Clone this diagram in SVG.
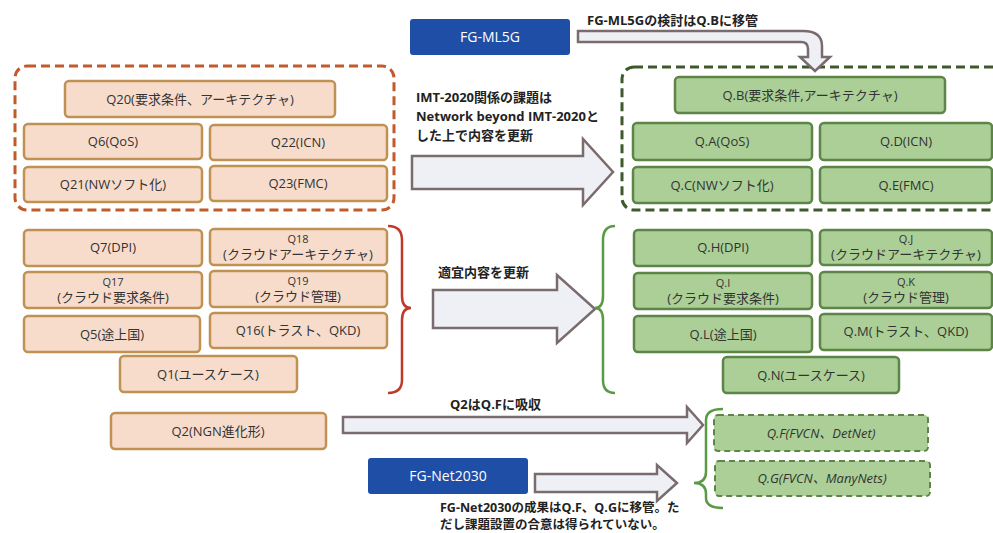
<svg xmlns="http://www.w3.org/2000/svg" width="993" height="533" viewBox="0 0 993 533">
<defs>
<style>
text{font-family:"Open Sans","Noto Sans CJK JP",sans-serif;fill:#333;text-anchor:middle}
.o{fill:#f7dccc;stroke:#bf9254;stroke-width:2.5}
.g{fill:#abcf96;stroke:#5e8548;stroke-width:2.5}
.gd{fill:#abcf96;stroke:#5e8548;stroke-width:2;stroke-dasharray:6,4}
.bl{fill:#1f4ea6}
.t{font-size:13px}
.s{font-size:11px}
.lb{font-size:13px;font-weight:bold;fill:#222;text-anchor:start}
.w{fill:#fff;font-size:14px}
.it{font-style:italic;font-size:13px}
.ar{fill:#eef0f5;stroke:#7a6b6e;stroke-width:2.5;stroke-linejoin:miter}
</style>
</defs>
<rect width="993" height="533" fill="#fff"/>

<g id="containers">
<rect x="15" y="66" width="379" height="144" rx="12" fill="none" stroke="#c35a2b" stroke-width="3" stroke-dasharray="9,5"/>
<rect x="622" y="67" width="390" height="143" rx="12" fill="none" stroke="#3e5a2c" stroke-width="3" stroke-dasharray="9,5"/>
</g>

<g id="connectors">
<path class="ar" d="M578,31 L803,31 Q822,31 822,46 L822,57 L830,57 L815,71 L800,57 L808,57 L808,49 Q808,42 801,42 L578,42 Z"/>
<polygon class="ar" points="412,156 583,156 583,139 613,172 583,205 583,189 412,189"/>
<polygon class="ar" points="433,290 557,290 557,275 595,309 557,343 557,328 433,328"/>
<polygon class="ar" points="343,417 687,417 687,407 703,425 687,443 687,433 343,433"/>
<polygon class="ar" points="535,474 657,474 657,465 677,483 657,501 657,492 535,492"/>
<path d="M388,226 Q402,226 402,240 L402,296 Q402,308 411,308 Q402,308 402,320 L402,380 Q402,393 388,393" fill="none" stroke="#c0392b" stroke-width="2.5"/>
<path d="M615,226 Q603,226 603,240 L603,296 Q603,308 595,308 Q603,308 603,320 L603,380 Q603,393 615,393" fill="none" stroke="#5a9a45" stroke-width="2.5"/>
<path d="M723,409 Q706,409 706,420 L706,472 Q706,483 694,483 Q706,483 706,494 L706,498 Q706,508 723,508" fill="none" stroke="#5a9a45" stroke-width="2.5"/>
</g>

<g id="labels">
<text class="lb" x="587" y="25">FG-ML5Gの検討はQ.Bに移管</text>
<text class="lb" x="416" y="102">IMT-2020関係の課題は</text>
<text class="lb" x="416" y="121">Network beyond IMT-2020と</text>
<text class="lb" x="416" y="140">した上で内容を更新</text>
<text class="lb" x="438" y="277">適宜内容を更新</text>
<text class="lb" x="450" y="409">Q2はQ.Fに吸収</text>
<text class="lb" x="440" y="512" style="font-size:12.5px">FG-Net2030の成果はQ.F、Q.Gに移管。た</text>
<text class="lb" x="440" y="529" style="font-size:12.5px">だし課題設置の合意は得られていない。</text>
</g>

<g id="fg-ml5g"><rect class="bl" x="410" y="19" width="160" height="36" rx="3"/><text class="w" x="490" y="42">FG-ML5G</text></g>
<g id="fg-net2030"><rect class="bl" x="368" y="458" width="160" height="36" rx="3"/><text class="w" x="448" y="481">FG-Net2030</text></g>

<g id="q20"><rect class="o" x="65" y="81" width="270" height="36" rx="4"/><text class="t" x="200" y="104">Q20(要求条件、アーキテクチャ)</text></g>
<g id="q6"><rect class="o" x="24" y="124" width="178" height="35" rx="4"/><text class="t" x="113" y="146">Q6(QoS)</text></g>
<g id="q22"><rect class="o" x="210" y="125" width="177" height="35" rx="4"/><text class="t" x="298" y="147">Q22(ICN)</text></g>
<g id="q21"><rect class="o" x="24" y="167" width="178" height="35" rx="4"/><text class="t" x="113" y="189">Q21(NWソフト化)</text></g>
<g id="q23"><rect class="o" x="210" y="166" width="177" height="35" rx="4"/><text class="t" x="298" y="188">Q23(FMC)</text></g>

<g id="q7"><rect class="o" x="24" y="230" width="178" height="36" rx="4"/><text class="t" x="113" y="252">Q7(DPI)</text></g>
<g id="q18"><rect class="o" x="210" y="229" width="177" height="36" rx="4"/><text class="s" x="298" y="243">Q18</text><text class="t" x="298" y="259">(クラウドアーキテクチャ)</text></g>
<g id="q17"><rect class="o" x="24" y="272" width="178" height="36" rx="4"/><text class="s" x="113" y="286">Q17</text><text class="t" x="113" y="302">(クラウド要求条件)</text></g>
<g id="q19"><rect class="o" x="210" y="271" width="177" height="36" rx="4"/><text class="s" x="298" y="285">Q19</text><text class="t" x="298" y="301">(クラウド管理)</text></g>
<g id="q5"><rect class="o" x="24" y="316" width="176" height="36" rx="4"/><text class="t" x="112" y="339">Q5(途上国)</text></g>
<g id="q16"><rect class="o" x="210" y="313" width="177" height="35" rx="4"/><text class="t" x="298" y="335">Q16(トラスト、QKD)</text></g>
<g id="q1"><rect class="o" x="120" y="356" width="177" height="36" rx="4"/><text class="t" x="208" y="379">Q1(ユースケース)</text></g>
<g id="q2"><rect class="o" x="111" y="413" width="215" height="36" rx="4"/><text class="t" x="218" y="436">Q2(NGN進化形)</text></g>

<g id="qb"><rect class="g" x="675" y="77" width="270" height="36" rx="4"/><text class="t" x="810" y="100">Q.B(要求条件,アーキテクチャ)</text></g>
<g id="qa"><rect class="g" x="633" y="123" width="179" height="37" rx="4"/><text class="t" x="722" y="146">Q.A(QoS)</text></g>
<g id="qd"><rect class="g" x="820" y="123" width="172" height="37" rx="4"/><text class="t" x="906" y="146">Q.D(ICN)</text></g>
<g id="qc"><rect class="g" x="633" y="167" width="179" height="36" rx="4"/><text class="t" x="722" y="190">Q.C(NWソフト化)</text></g>
<g id="qe"><rect class="g" x="820" y="167" width="172" height="36" rx="4"/><text class="t" x="906" y="190">Q.E(FMC)</text></g>

<g id="qh"><rect class="g" x="634" y="230" width="178" height="36" rx="4"/><text class="t" x="723" y="252">Q.H(DPI)</text></g>
<g id="qj"><rect class="g" x="820" y="230" width="172" height="35" rx="4"/><text class="s" x="906" y="243">Q.J</text><text class="t" x="906" y="259">(クラウドアーキテクチャ)</text></g>
<g id="qi"><rect class="g" x="634" y="273" width="178" height="36" rx="4"/><text class="s" x="723" y="287">Q.I</text><text class="t" x="723" y="303">(クラウド要求条件)</text></g>
<g id="qk"><rect class="g" x="820" y="272" width="172" height="36" rx="4"/><text class="s" x="906" y="286">Q.K</text><text class="t" x="906" y="302">(クラウド管理)</text></g>
<g id="ql"><rect class="g" x="634" y="316" width="178" height="36" rx="4"/><text class="t" x="723" y="339">Q.L(途上国)</text></g>
<g id="qm"><rect class="g" x="820" y="314" width="172" height="36" rx="4"/><text class="t" x="906" y="336">Q.M(トラスト、QKD)</text></g>
<g id="qn"><rect class="g" x="723" y="357" width="176" height="36" rx="4"/><text class="t" x="811" y="380">Q.N(ユースケース)</text></g>

<g id="qf"><rect class="gd" x="714" y="415" width="214" height="36" rx="4"/><text class="it" x="821" y="438">Q.F(FVCN、DetNet)</text></g>
<g id="qg"><rect class="gd" x="715" y="461" width="215" height="35" rx="4"/><text class="it" x="822" y="483">Q.G(FVCN、ManyNets)</text></g>
</svg>
